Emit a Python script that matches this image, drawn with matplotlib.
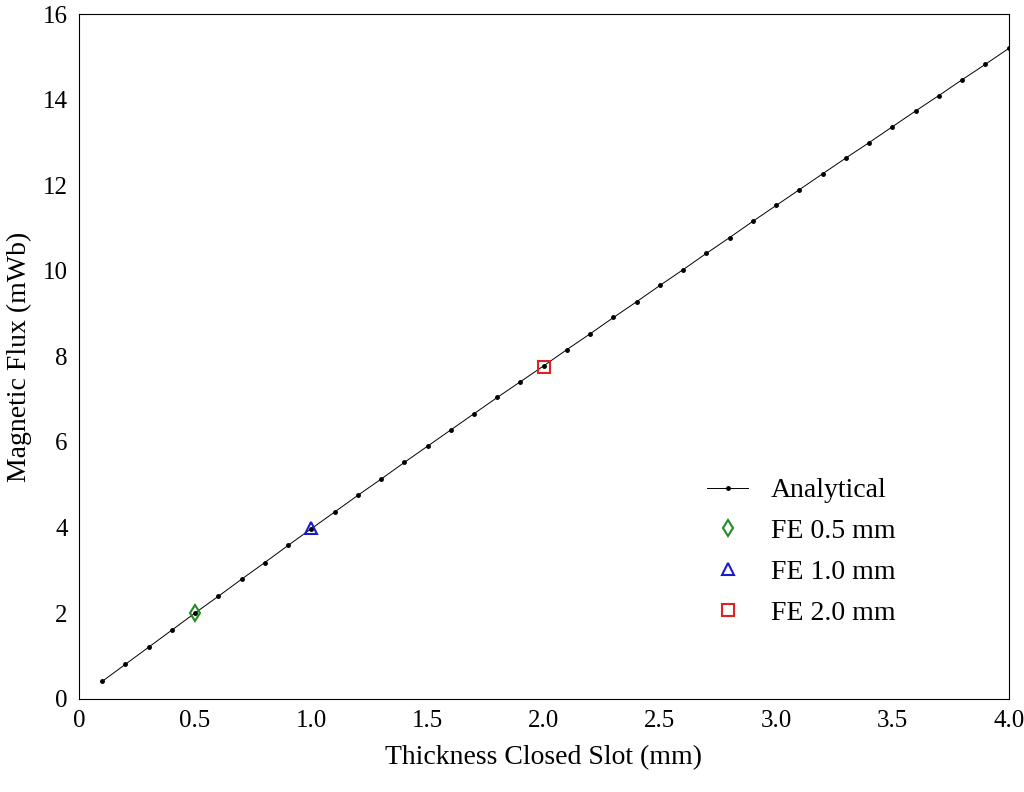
import matplotlib
matplotlib.use("Agg")
import matplotlib.pyplot as plt

plt.rcParams.update({
    "font.family": "Liberation Serif",
    "font.size": 18,
})

thickness = [0.1, 0.2, 0.3, 0.4, 0.5, 0.6, 0.7, 0.8, 0.9, 1.0,
             1.1, 1.2, 1.3, 1.4, 1.5, 1.6, 1.7, 1.8, 1.9, 2.0,
             2.1, 2.2, 2.3, 2.4, 2.5, 2.6, 2.7, 2.8, 2.9, 3.0,
             3.1, 3.2, 3.3, 3.4, 3.5, 3.6, 3.7, 3.8, 3.9, 4.0]
flux = [0.40, 0.80, 1.20, 1.60, 2.00, 2.39, 2.79, 3.18, 3.58, 3.97,
        4.36, 4.75, 5.13, 5.52, 5.90, 6.28, 6.66, 7.04, 7.41, 7.78,
        8.16, 8.53, 8.91, 9.28, 9.66, 10.03, 10.41, 10.78, 11.16, 11.53,
        11.90, 12.27, 12.64, 13.00, 13.37, 13.74, 14.10, 14.47, 14.83, 15.20]

fe_x = [0.5, 1.0, 2.0]
fe_y = [2.00, 3.98, 7.76]
fe_labels = ["FE 0.5 mm", "FE 1.0 mm", "FE 2.0 mm"]
fe_markers = ["d", "^", "s"]
fe_colors = ["#228B22", "#1a1acc", "#dd2222"]

fig, ax = plt.subplots(figsize=(10.24, 7.92), dpi=100)
fig.subplots_adjust(left=0.077, right=0.985, bottom=0.118, top=0.982)

ax.plot(thickness, flux, "-", color="black", lw=0.7, marker="o", ms=2.5,
        label="Analytical")
for x, y, lab, m, c in zip(fe_x, fe_y, fe_labels, fe_markers, fe_colors):
    ax.plot([x], [y], ls="none", marker=m, ms=8, mfc="none", mec=c,
            mew=1.5, label=lab)

ax.set_xlim(0, 4.0)
ax.set_ylim(0, 16)
ax.set_xticks([0, 0.5, 1.0, 1.5, 2.0, 2.5, 3.0, 3.5, 4.0])
ax.set_xticklabels(["0", "0.5", "1.0", "1.5", "2.0", "2.5", "3.0", "3.5", "4.0"])
ax.set_yticks(range(0, 17, 2))
ax.tick_params(length=0, labelsize=18, pad=8)
ax.set_xlabel("Thickness Closed Slot (mm)", fontsize=20, labelpad=10)
ax.set_ylabel("Magnetic Flux (mWb)", fontsize=20, labelpad=8)
ax.legend(loc="lower right", bbox_to_anchor=(0.905, 0.07), frameon=False,
          fontsize=20, handlelength=1.5, labelspacing=0.55)

fig.savefig("out.png")
